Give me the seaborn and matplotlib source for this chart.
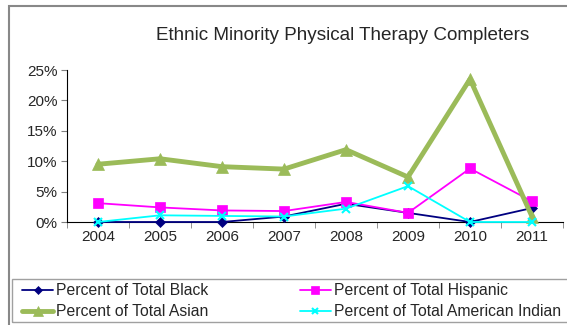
import numpy as np
import pandas as pd
import seaborn as sns
import matplotlib.pyplot as plt
from matplotlib.ticker import FuncFormatter, FixedLocator

years = ["2004", "2005", "2006", "2007", "2008", "2009", "2010", "2011"]
black = [0.0, 0.0, 0.0, 0.9, 3.0, 1.5, 0.0, 2.3]
hispanic = [3.1, 2.4, 1.9, 1.8, 3.3, 1.5, 8.8, 3.4]
asian = [9.5, 10.4, 9.1, 8.7, 11.9, 7.4, 23.5, 0.9]
am_indian = [0.0, 1.1, 1.0, 0.9, 2.2, 5.9, 0.0, 0.0]

series = {
    "Percent of Total Black": black,
    "Percent of Total Hispanic": hispanic,
    "Percent of Total Asian": asian,
    "Percent of Total American Indian": am_indian,
}
rows = []
for name, vals in series.items():
    for i, v in enumerate(vals):
        rows.append({"pos": i, "value": v, "series": name})
df = pd.DataFrame(rows)

colors = ["#000080", "#FF00FF", "#9BBB59", "#00FFFF"]
markers = ["D", "s", "^", "x"]
widths = [1.3, 1.3, 3.5, 1.3]
msizes = [5, 7, 9, 6]

sns.set_style("white")
plt.rcParams["font.family"] = ["Liberation Sans", "DejaVu Sans"]

W, H = 567, 325
fig = plt.figure(figsize=(5.67, 3.25), dpi=100)
ax = fig.add_axes([67 / W, 1 - 222 / H, 496 / W, 152 / H])

for (name, _), c, m, w, ms in zip(series.items(), colors, markers, widths, msizes):
    sns.lineplot(data=df[df["series"] == name], x="pos", y="value", ax=ax,
                 color=c, marker=m, linewidth=w, markersize=ms,
                 markeredgecolor=c, markeredgewidth=1.5 if m == "x" else 0.5,
                 label=name, clip_on=False, zorder=3)

ax.set_xlim(-0.5, 7.5)
ax.set_ylim(0, 25)
ax.set_xticks(range(len(years)))
ax.set_xticklabels(years, fontsize=11)
ax.xaxis.set_minor_locator(FixedLocator(np.arange(-0.5, 8, 1)))
ax.tick_params(axis="x", which="major", length=0, pad=6)
ax.tick_params(axis="x", which="minor", length=4, direction="out", color="#808080", bottom=True)
ax.set_yticks(range(0, 26, 5))
ax.yaxis.set_major_formatter(FuncFormatter(lambda v, p: f"{int(v)}%"))
ax.tick_params(axis="y", length=4, direction="out", labelsize=11, left=True, color="#808080", pad=3)
ax.set_xlabel("")
ax.set_ylabel("")
for s in ["top", "right"]:
    ax.spines[s].set_visible(False)
ax.spines["left"].set_color("black")
ax.spines["bottom"].set_color("black")

ax.get_legend().remove()
handles, labels = ax.get_legend_handles_labels()
order = [0, 2, 1, 3]
leg = fig.legend([handles[i] for i in order], [labels[i] for i in order],
                 loc="upper left", bbox_to_anchor=(22 / W, 1 - 283 / H),
                 ncol=2, frameon=False, fontsize=11.3,
                 handlelength=1.98, handletextpad=0.2, borderpad=0, labelspacing=0.4,
                 borderaxespad=0, markerscale=0.8, columnspacing=5.8)

# legend box and chart border
fig.patches.append(plt.Rectangle((12 / W, 3 / H), 570 / W, 43 / H,
                                 transform=fig.transFigure, fill=False,
                                 edgecolor="#A0A0A0", linewidth=1))
fig.patches.append(plt.Rectangle((9 / W, -10 / H), 600 / W, 329 / H,
                                 transform=fig.transFigure, fill=False,
                                 edgecolor="#888888", linewidth=1.5))

fig.text(343 / W, 1 - 35 / H, "Ethnic Minority Physical Therapy Completers",
         ha="center", va="center", fontsize=13.6)

fig.savefig("out.png", dpi=100)
